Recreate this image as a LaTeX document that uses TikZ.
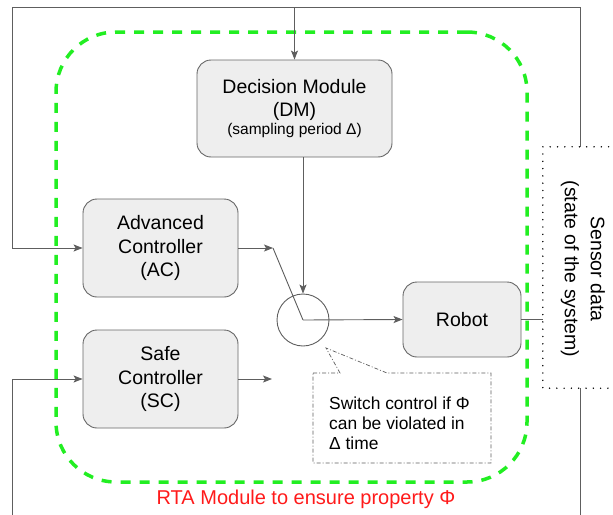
\documentclass[tikz,border=0pt]{standalone}
\usepackage{fontspec}
\setmainfont{Liberation Sans}
\usetikzlibrary{arrows.meta}
\definecolor{boxfill}{HTML}{EEEEEE}
\definecolor{boxline}{HTML}{666666}
\definecolor{wirecol}{HTML}{5E5E5E}
\definecolor{rtagreen}{HTML}{22EE22}
\definecolor{rtared}{HTML}{FF1A1A}
\begin{document}
\begin{tikzpicture}[x=1pt,y=-1pt,
  block/.style={draw=boxline, fill=boxfill, rounded corners=14pt, line width=0.9pt,
    align=center, inner sep=0pt, font=\fontsize{19.5}{23.5}\selectfont},
  wire/.style={draw=wirecol, line width=0.9pt},
  arr/.style={wire, -{Stealth[length=9pt,width=7pt,inset=2pt]}, fill=none},
  notebox/.style={draw=wirecol, line width=0.7pt, dash pattern=on 4pt off 2pt on 1pt off 2pt},
  sensorframe/.style={draw=black, line width=1.6pt, line cap=round, dash pattern=on 0pt off 7.3pt},
  rtabox/.style={draw=rtagreen, line width=3.5pt, dash pattern=on 10pt off 9pt, rounded corners=60pt,
    inner sep=0pt}
]
\useasboundingbox (0,0) rectangle (613,514);
\clip (0,0) rectangle (613,514);

% RTA module frame
\node[rtabox, minimum width=471pt, minimum height=450pt] (rta) at (291.5,257) {};
\node[text=rtared, font=\fontsize{20}{23}\selectfont] (rtalabel) at (306,499) {RTA Module to ensure property Φ};

% blocks
\node[block, minimum width=195pt, minimum height=97pt] (dm) at (294.5,108.5)
  {Decision Module\\(DM)\\[-6pt]{\fontsize{15.5}{18}\selectfont (sampling period Δ)}};
\node[block, minimum width=155pt, minimum height=98pt] (ac) at (160.5,248) {Advanced\\Controller\\(AC)};
\node[block, minimum width=155pt, minimum height=98pt] (sc) at (160.5,379) {Safe\\Controller\\(SC)};
\node[block, minimum width=118pt, minimum height=75pt] (robot) at (462,319.5) {Robot};
\node[circle, draw=wirecol, line width=0.9pt, minimum size=52pt, inner sep=0pt] (sw) at (303,320) {};

% sensor
\node[minimum width=80pt, minimum height=241pt, inner sep=0pt] (sensor) at (583,267.5) {};
\draw[sensorframe] (sensor.north east) -- (sensor.north west) -- (sensor.south west) -- (sensor.south east);
\node[rotate=-90, align=center, font=\fontsize{19.5}{26}\selectfont] (sensortext) at (583,269)
  {Sensor data\\(state of the system)};

% switch connectors
\coordinate (acend) at (273,248);
\coordinate (scend) at (272,379);
\draw[arr] (ac.east) -- (acend);
\draw[wire] (acend) -- (sw.center);
\draw[arr] (sc.east) -- (scend);
\draw[arr] (dm.south -| sw.center) -- (sw.north);
\draw[arr] (sw.center) -- (robot.west);
\draw[wire] (robot.east) -- (robot.east -| sensor.west);

% feedback loops
\coordinate (tr) at (580,7);
\coordinate (tl) at (12,7);
\coordinate (br) at (580,530);
\coordinate (bl) at (12,530);
\draw[arr] (sensor.north -| tr) -- (tr) -- (tl) -- (tl |- ac.west) -- (ac.west);
\draw[arr] (tl -| dm.north) -- (dm.north);
\draw[arr] (sensor.south -| br) -- (br) -- (bl) -- (bl |- sc.west) -- (sc.west);

% note
\coordinate (tip) at (326,348);
\draw[notebox] (313,373) -- (340,373) -- (tip) -- (387,373) -- (491,373) -- (491,463) -- (313,463) -- cycle;
\node[align=left, anchor=west, inner sep=0pt, font=\fontsize{17.4}{20}\selectfont] (note) at (329,423)
  {Switch control if Φ\\can be violated in\\Δ time};
\end{tikzpicture}
\end{document}
